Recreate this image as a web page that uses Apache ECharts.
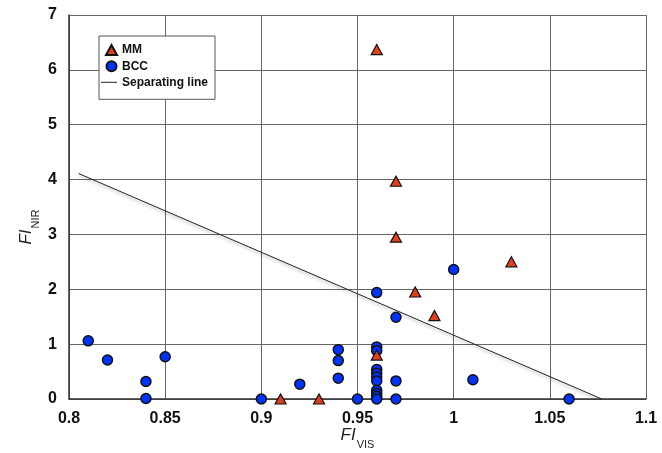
<!DOCTYPE html>
<html>
<head>
<meta charset="utf-8">
<script src="https://cdn.jsdelivr.net/npm/echarts@6/dist/echarts.min.js"></script>
<style>html,body{margin:0;padding:0;background:#fff}#c{width:662px;height:453px}</style>
</head>
<body>
<div id="c"></div>
<script>
// MM points [FI_VIS, FI_NIR]
var mmData = [
  [0.91, 0.0], [0.93, 0.0], [0.96, 0.80], [0.96, 6.37], [0.97, 3.97],
  [0.97, 2.95], [0.98, 1.95], [0.99, 1.52], [1.03, 2.50]
];
// BCC points [FI_VIS, FI_NIR]
var bccData = [
  [0.81, 1.06], [0.82, 0.71], [0.84, 0.32], [0.84, 0.01], [0.85, 0.77],
  [0.90, 0.0], [0.92, 0.27], [0.94, 0.90], [0.94, 0.70], [0.94, 0.38],
  [0.95, 0.0], [0.96, 1.94], [0.96, 0.95], [0.96, 0.88], [0.96, 0.54],
  [0.96, 0.47], [0.96, 0.40], [0.96, 0.33], [0.96, 0.16], [0.96, 0.10],
  [0.96, 0.05], [0.96, 0.0], [0.97, 1.49], [0.97, 0.33], [0.97, 0.0],
  [1.00, 2.36], [1.01, 0.35], [1.06, 0.0]
];
// Separating line endpoints
var lineData = [[0.805, 4.11], [1.077, 0.0]];
var xTicks = {min: 0.8, max: 1.1, interval: 0.05};
var yTicks = {min: 0, max: 7, interval: 1};

var FONT = '"Liberation Sans", Arial, sans-serif';
var legendText = {fontFamily: FONT, fontWeight: 'bold', fontSize: 12, color: '#111', lineHeight: 14};
var nameRich = {
  i: {fontFamily: FONT, fontStyle: 'italic', fontSize: 17, color: '#222', verticalAlign: 'bottom', padding: [0, 0, 6, 0]},
  s: {fontFamily: FONT, fontSize: 11, color: '#222', verticalAlign: 'bottom', padding: [0, 0, 0, 1]}
};
var chart = echarts.init(document.getElementById('c'));
chart.setOption({
  animation: false,
  backgroundColor: '#fff',
  grid: {left: 69, right: 16, top: 15, bottom: 54, outerBoundsMode: 'none', containLabel: false},
  legend: [
    {
      orient: 'vertical', left: 99, top: 36,
      padding: [7, 67, 26, 6], itemGap: 2.3,
      itemWidth: 11, itemHeight: 10,
      borderColor: '#555', borderWidth: 1, backgroundColor: '#fff',
      textStyle: legendText,
      data: [{name: 'MM', icon: 'triangle'}, {name: 'BCC', icon: 'circle'}]
    },
    {
      orient: 'vertical', left: 101, top: 75.3, padding: 0,
      itemWidth: 16, itemHeight: 1, z: 10,
      textStyle: legendText,
      data: [{name: 'Separating line', icon: 'rect'}]
    }
  ],
  xAxis: {
    type: 'value', min: xTicks.min, max: xTicks.max, interval: xTicks.interval,
    name: '{i|FI}{s|VIS}', nameLocation: 'middle', nameGap: 28, nameMoveOverlap: false,
    nameTextStyle: {fontFamily: FONT, color: '#222', rich: nameRich},
    axisLine: {show: true, lineStyle: {color: '#333', width: 1.5}},
    axisTick: {show: false},
    splitLine: {show: true, lineStyle: {color: '#666', width: 1}},
    axisLabel: {
      fontFamily: FONT, fontWeight: 'bold', fontSize: 16, color: '#111', margin: 12,
      formatter: function (v) { return String(parseFloat(v.toFixed(2))); }
    }
  },
  yAxis: {
    type: 'value', min: yTicks.min, max: yTicks.max, interval: yTicks.interval,
    name: '{i|FI}{s|NIR}', nameLocation: 'middle', nameGap: 28, nameRotate: 90, nameMoveOverlap: false,
    nameTextStyle: {fontFamily: FONT, color: '#222', padding: [0, 40, 0, 0], rich: nameRich},
    axisLine: {show: true, lineStyle: {color: '#333', width: 1.5}},
    axisTick: {show: false},
    splitLine: {show: true, lineStyle: {color: '#666', width: 1}},
    axisLabel: {fontFamily: FONT, fontWeight: 'bold', fontSize: 16, color: '#111', margin: 12}
  },
  series: [
    {
      name: 'Separating line', type: 'line', data: lineData, symbol: 'none',
      lineStyle: {color: '#222', width: 1, shadowColor: 'rgba(0,0,0,0.35)', shadowBlur: 3, shadowOffsetY: 2},
      itemStyle: {color: '#222'}, z: 2
    },
    {
      name: 'BCC', type: 'scatter', data: bccData, symbol: 'circle', symbolSize: 10,
      itemStyle: {color: '#0033ff', borderColor: '#111', borderWidth: 1.5, opacity: 1}, z: 3
    },
    {
      name: 'MM', type: 'scatter', data: mmData, symbol: 'triangle', symbolSize: [11, 10],
      itemStyle: {color: '#e0401a', borderColor: '#111', borderWidth: 1.2, opacity: 1}, z: 4
    }
  ]
});
</script>
</body>
</html>
